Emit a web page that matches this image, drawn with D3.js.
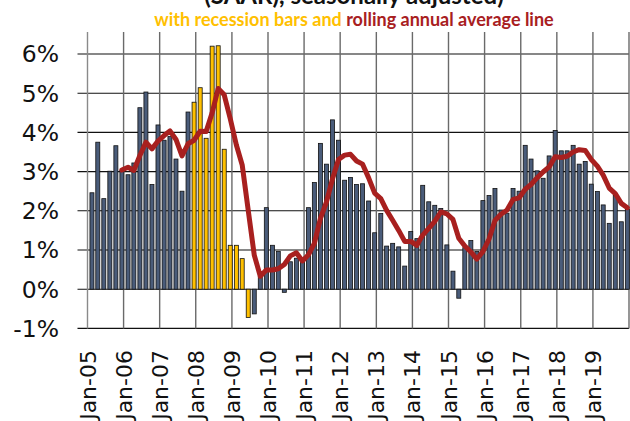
<!DOCTYPE html>
<html>
<head>
<meta charset="utf-8">
<script src="https://cdn.jsdelivr.net/npm/d3@7.9.0/dist/d3.min.js"></script>
<style>
  body { margin: 0; background: #fff; }
  svg { display: block; }
  text { font-family: Lato, "Open Sans", sans-serif; }
  .axis-label { font-family: "DejaVu Sans", sans-serif; }
</style>
</head>
<body>
<svg id="chart" width="630" height="421"></svg>
<script>
// bimonthly readings (Feb, Apr, Jun, Aug, Oct, Dec), Feb 2005 .. Dec 2019, in %
const yoyValues = [
  2.46, 3.75, 2.31, 3.01, 3.66, 3.03,
  2.92, 3.22, 4.63, 5.03, 2.67, 4.19,
  3.80, 3.90, 3.32, 2.50, 4.52, 4.77,
  5.14, 3.85, 6.20, 6.21, 3.57, 1.12,
  1.12, 0.78, -0.72, -0.63, 0.32, 2.08,
  1.12, 0.96, -0.08, 0.70, 0.79, 0.80,
  2.08, 2.72, 3.72, 3.19, 4.32, 3.80,
  2.78, 2.85, 2.67, 2.69, 2.25, 1.44,
  1.93, 1.10, 1.17, 1.08, 0.59, 1.47,
  1.29, 2.65, 2.23, 2.14, 2.06, 1.13,
  0.46, -0.23, 1.06, 1.24, 0.96, 2.26,
  2.39, 2.57, 2.02, 1.94, 2.57, 2.50,
  3.67, 3.32, 3.02, 2.83, 3.40, 4.05,
  3.53, 3.53, 3.67, 3.19, 3.26, 2.68,
  2.49, 2.15, 1.68, 2.39, 1.72, 2.04
];

// rolling annual average line, starts at the 6th reading (Dec 2005)
const rollingStart = 5;
const rollingAvg = [
  3.04,
  3.11, 3.03, 3.41, 3.75, 3.58, 3.78,
  3.92, 4.04, 3.82, 3.40, 3.71, 3.80,
  4.03, 4.02, 4.50, 5.12, 4.96, 4.35,
  3.68, 3.17, 2.01, 0.87, 0.33, 0.49,
  0.49, 0.52, 0.63, 0.85, 0.93, 0.72,
  0.88, 1.17, 1.80, 2.22, 2.81, 3.31,
  3.42, 3.44, 3.27, 3.19, 2.84, 2.45,
  2.31, 2.01, 1.76, 1.50, 1.22, 1.22,
  1.12, 1.38, 1.55, 1.73, 1.97, 1.92,
  1.78, 1.30, 1.10, 0.95, 0.77, 0.96,
  1.28, 1.75, 1.91, 2.02, 2.29, 2.33,
  2.55, 2.67, 2.84, 2.99, 3.12, 3.38,
  3.36, 3.39, 3.50, 3.56, 3.54, 3.31,
  3.14, 2.91, 2.58, 2.44, 2.19, 2.08
];

const recessionStart = new Date(2007, 11, 1);
const recessionEnd = new Date(2009, 5, 30);

const yearLabels = ['Jan-05', 'Jan-06', 'Jan-07', 'Jan-08', 'Jan-09', 'Jan-10', 'Jan-11', 'Jan-12',
  'Jan-13', 'Jan-14', 'Jan-15', 'Jan-16', 'Jan-17', 'Jan-18', 'Jan-19'];
const yTickValues = [-1, 0, 1, 2, 3, 4, 5, 6];

const titleText = '(SAAR), seasonally adjusted)';
const subtitleParts = ['with recession bars and ', 'rolling annual average line'];

// layout
const plotLeft = 87.5, plotRight = 629, plotTop = 32;
const barColor = '#4a5c7a';
const recessionColor = '#ffc000';
const lineColor = '#a8201f';

const svg = d3.select('#chart');

const x = d3.scaleTime()
  .domain([new Date(2005, 0, 1), new Date(2020, 0, 1)])
  .range([plotLeft, plotRight]);
const y = d3.scaleLinear().domain([-1, 7]).range([328.4, 14.8]);

const barDate = i => new Date(2005, 1 + 2 * i, 15);
const bars = yoyValues.map((v, i) => ({ date: barDate(i), value: v }));
const avgPoints = rollingAvg.map((v, i) => ({ date: barDate(i + rollingStart), value: v }));

// horizontal gridlines
svg.append('g')
  .selectAll('line')
  .data(yTickValues)
  .join('line')
  .attr('x1', plotLeft - 10)
  .attr('x2', plotRight)
  .attr('y1', d => y(d))
  .attr('y2', d => y(d))
  .attr('stroke', '#111')
  .attr('stroke-width', 1.1);

// vertical gridlines (one per year)
const yearDates = d3.range(2005, 2021).map(yr => new Date(yr, 0, 1));
svg.append('g')
  .selectAll('line')
  .data(yearDates)
  .join('line')
  .attr('x1', d => x(d))
  .attr('x2', d => x(d))
  .attr('y1', plotTop)
  .attr('y2', y(-1))
  .attr('stroke', d => d.getFullYear() === 2005 ? '#8a8a8a' : '#6a6a6a')
  .attr('stroke-width', 1.4);

// bars
svg.append('g')
  .selectAll('rect')
  .data(bars)
  .join('rect')
  .attr('x', d => x(d.date) - 2)
  .attr('width', 4)
  .attr('y', d => y(Math.max(0, d.value)))
  .attr('height', d => Math.abs(y(d.value) - y(0)))
  .attr('fill', d => (d.date >= recessionStart && d.date <= recessionEnd) ? recessionColor : barColor)
  .attr('stroke', '#111')
  .attr('stroke-width', 0.8);

// rolling average line
const line = d3.line()
  .x(d => x(d.date))
  .y(d => y(d.value));

svg.append('path')
  .datum(avgPoints)
  .attr('d', line)
  .attr('fill', 'none')
  .attr('stroke', lineColor)
  .attr('stroke-width', 5)
  .attr('stroke-linejoin', 'round')
  .attr('stroke-linecap', 'round');

// y labels
svg.append('g')
  .selectAll('text')
  .data(yTickValues)
  .join('text')
  .attr('class', 'axis-label')
  .attr('x', 59)
  .attr('y', d => y(d))
  .attr('dy', '0.36em')
  .attr('text-anchor', 'end')
  .attr('font-size', 23.5)
  .attr('fill', '#111')
  .text(d => d + '%');

// x labels, rotated
svg.append('g')
  .selectAll('text')
  .data(yearLabels)
  .join('text')
  .attr('class', 'axis-label')
  .attr('transform', (d, i) => `translate(${x(yearDates[i]) + 8},350) rotate(-90)`)
  .attr('text-anchor', 'end')
  .attr('font-size', 22)
  .attr('fill', '#111')
  .text(d => d);

// titles (main title is mostly above the visible area)
svg.append('text')
  .attr('x', 354)
  .attr('y', 4)
  .attr('text-anchor', 'middle')
  .attr('font-size', 24)
  .attr('font-weight', 'bold')
  .attr('fill', '#111')
  .text(titleText);

const sub = svg.append('text')
  .attr('x', 354)
  .attr('y', 26)
  .attr('text-anchor', 'middle')
  .attr('font-size', 18)
  .attr('font-weight', 'bold');
sub.append('tspan').attr('fill', recessionColor).text(subtitleParts[0]);
sub.append('tspan').attr('fill', lineColor).text(subtitleParts[1]);
</script>
</body>
</html>
